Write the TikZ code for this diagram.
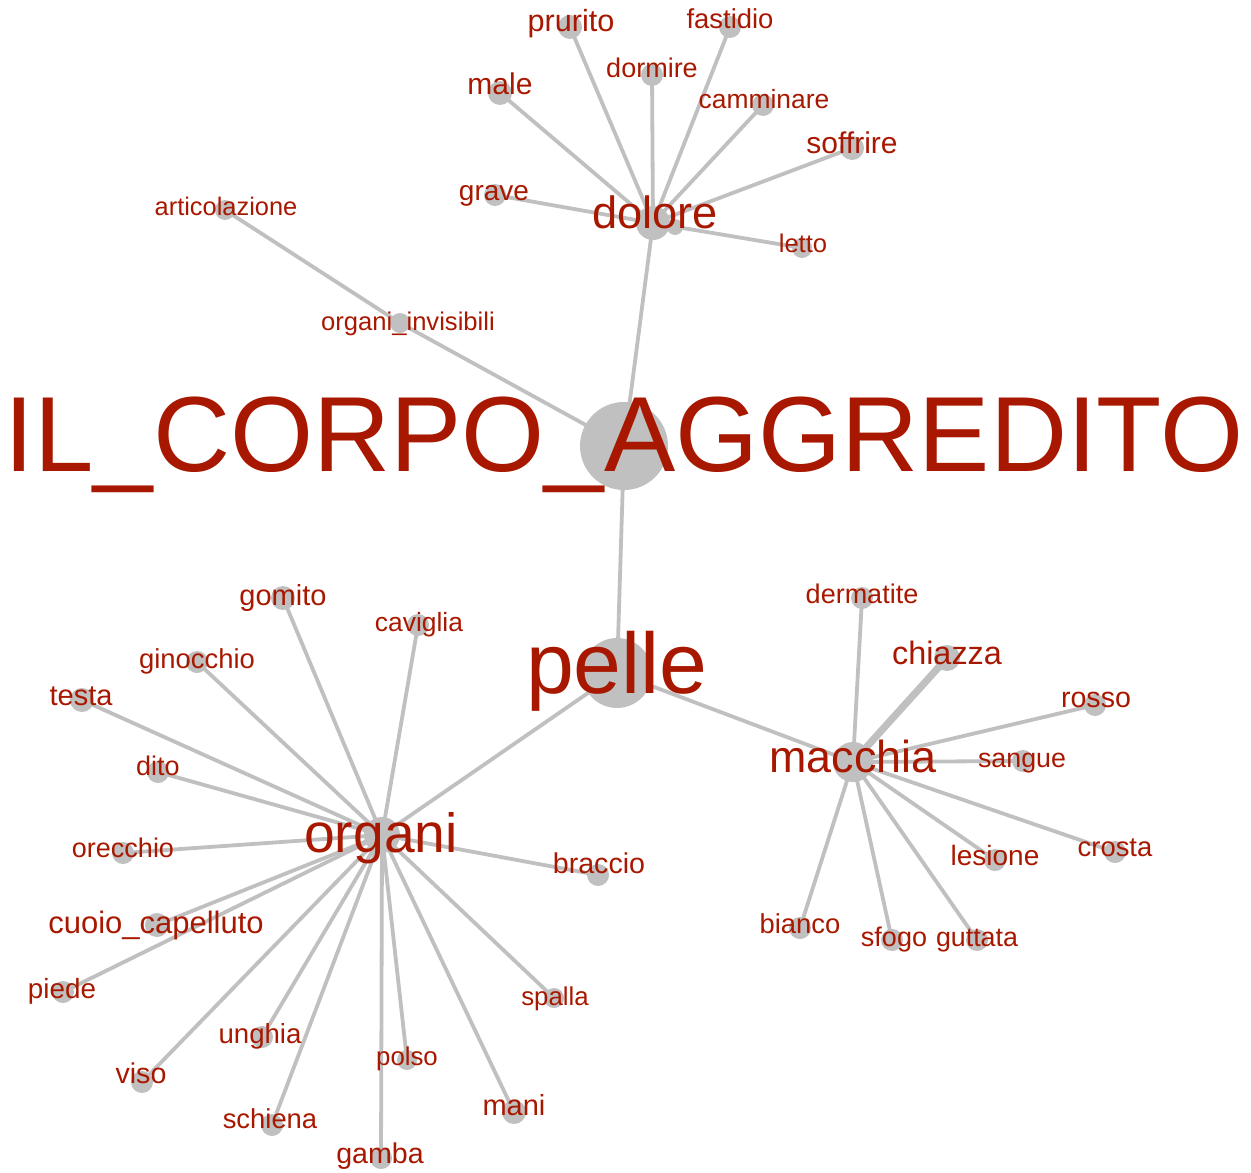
\documentclass[tikz,border=0pt]{standalone}
\usepackage{fontspec}
\setmainfont{Liberation Sans}
\usetikzlibrary{backgrounds}
\definecolor{txtred}{RGB}{168,24,0}
\definecolor{nodegray}{RGB}{192,192,192}
\tikzset{
  dot/.style={circle, fill=nodegray, draw=none, inner sep=0pt},
  lbl/.style={text=txtred, anchor=base, inner sep=0pt, outer sep=0pt},
  edge/.style={draw=nodegray, line width=1.9pt},
  thickedge/.style={draw=nodegray, line width=3.6pt}
}
\newcommand\wdot[4]{\node[dot, minimum size={0.5*#4pt}] (#1) at (#2,#3) {};}
\newcommand\wlbl[5]{\node[lbl, font=\fontsize{#4pt}{#4pt}\selectfont] (#1-l) at (#2,#3) {#5};}
\begin{document}
\begin{tikzpicture}[x=0.5pt,y=-0.5pt]
\useasboundingbox (0,0) rectangle (1251,1172);
% circles (size = diameter in px)
\wdot{il}{624}{446}{88}
\wdot{pelle}{617}{673}{70}
\wdot{dolore}{653}{223}{34}
\wdot{organi}{382}{835}{36}
\wdot{macchia}{853}{762}{40}
\wdot{extra}{675}{227}{16}
\wdot{prurito}{570}{27}{24}
\wdot{fastidio}{730}{27}{22}
\wdot{dormire}{652}{75}{22}
\wdot{male}{500}{93}{24}
\wdot{camminare}{763}{105}{22}
\wdot{soffrire}{852}{148}{24}
\wdot{grave}{495}{195}{22}
\wdot{letto}{802}{248}{20}
\wdot{articolazione}{225}{210}{20}
\wdot{invisibili}{400}{323}{20}
\wdot{dermatite}{862}{598}{22}
\wdot{chiazza}{947}{658}{26}
\wdot{rosso}{1095}{705}{22}
\wdot{sangue}{1023}{761}{22}
\wdot{crosta}{1115}{852}{22}
\wdot{lesione}{995}{860}{22}
\wdot{bianco}{800}{928}{22}
\wdot{sfogo}{892}{940}{22}
\wdot{guttata}{977}{940}{22}
\wdot{gomito}{283}{598}{24}
\wdot{caviglia}{418}{625}{22}
\wdot{ginocchio}{197}{662}{22}
\wdot{testa}{82}{700}{24}
\wdot{dito}{158}{772}{22}
\wdot{orecchio}{123}{853}{22}
\wdot{braccio}{598}{875}{22}
\wdot{cuoio}{157}{925}{24}
\wdot{piede}{63}{992}{22}
\wdot{unghia}{262}{1037}{22}
\wdot{viso}{142}{1082}{22}
\wdot{schiena}{272}{1125}{22}
\wdot{spalla}{554}{998}{20}
\wdot{polso}{407}{1060}{20}
\wdot{mani}{514}{1112}{24}
\wdot{gamba}{381}{1158}{22}
% edges
\begin{pgfonlayer}{background}
\foreach \t in {prurito,fastidio,dormire,male,camminare,soffrire,grave,letto}
  \draw[edge] (dolore.center) -- (\t.center);
\draw[edge] (il.center) -- (dolore.center);
\draw[edge] (il.center) -- (invisibili.center);
\draw[edge] (invisibili.center) -- (articolazione.center);
\draw[edge] (il.center) -- (pelle.center);
\draw[edge] (pelle.center) -- (organi.center);
\draw[edge] (pelle.center) -- (macchia.center);
\foreach \t in {dermatite,rosso,sangue,crosta,lesione,bianco,sfogo,guttata}
  \draw[edge] (macchia.center) -- (\t.center);
\draw[thickedge] (macchia.center) -- (chiazza.center);
\foreach \t in {gomito,caviglia,ginocchio,testa,dito,orecchio,braccio,cuoio,piede,unghia,viso,schiena,spalla,polso,mani,gamba}
  \draw[edge] (organi.center) -- (\t.center);
\end{pgfonlayer}
% labels
\wlbl{il}{624}{471}{53.4}{IL\_CORPO\_AGGREDITO}
\wlbl{pelle}{617}{693}{43}{pelle}
\wlbl{dolore}{655}{228}{22.6}{dolore}
\wlbl{organi}{381}{852}{27.6}{organi}
\wlbl{macchia}{853}{772}{22.4}{macchia}
\wlbl{prurito}{571}{32}{15.3}{prurito}
\wlbl{fastidio}{730}{29}{13.7}{fastidio}
\wlbl{dormire}{652}{78}{13.5}{dormire}
\wlbl{male}{500}{95}{15}{male}
\wlbl{camminare}{764}{108}{13.2}{camminare}
\wlbl{soffrire}{852}{153}{15}{soffrire}
\wlbl{grave}{494}{200}{14}{grave}
\wlbl{letto}{803}{252}{12.8}{letto}
\wlbl{articolazione}{226}{215}{12.7}{articolazione}
\wlbl{invisibili}{408}{330}{12.8}{organi\_invisibili}
\wlbl{dermatite}{862}{603}{13.5}{dermatite}
\wlbl{chiazza}{947}{664}{16.2}{chiazza}
\wlbl{rosso}{1096}{707}{14.3}{rosso}
\wlbl{sangue}{1022}{767}{13.4}{sangue}
\wlbl{crosta}{1115}{856}{13.7}{crosta}
\wlbl{lesione}{995}{865}{14}{lesione}
\wlbl{bianco}{800}{933}{13.7}{bianco}
\wlbl{sfogo}{894}{946}{13.5}{sfogo}
\wlbl{guttata}{977}{946}{13.4}{guttata}
\wlbl{gomito}{283}{605}{14.5}{gomito}
\wlbl{caviglia}{419}{631}{13.2}{caviglia}
\wlbl{ginocchio}{197}{668}{13.7}{ginocchio}
\wlbl{testa}{81}{705}{14.5}{testa}
\wlbl{dito}{158}{775}{13.5}{dito}
\wlbl{orecchio}{123}{857}{13.5}{orecchio}
\wlbl{braccio}{599}{873}{14.3}{braccio}
\wlbl{cuoio}{156}{933}{15.5}{cuoio\_capelluto}
\wlbl{piede}{62}{998}{13.9}{piede}
\wlbl{unghia}{260}{1043}{13.8}{unghia}
\wlbl{viso}{141}{1083}{14.3}{viso}
\wlbl{schiena}{270}{1128}{13.7}{schiena}
\wlbl{spalla}{555}{1005}{12.9}{spalla}
\wlbl{polso}{407}{1065}{12.9}{polso}
\wlbl{mani}{514}{1115}{14.5}{mani}
\wlbl{gamba}{380}{1163}{14.3}{gamba}
\end{tikzpicture}
\end{document}
